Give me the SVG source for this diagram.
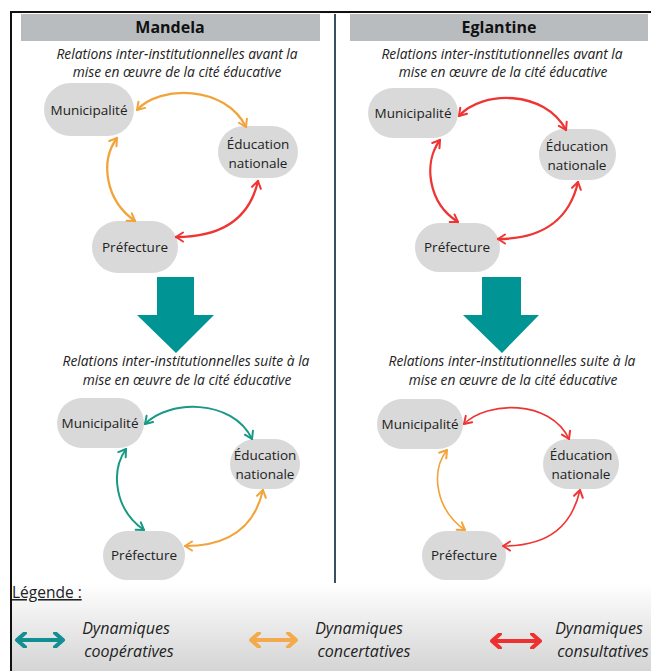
<svg xmlns="http://www.w3.org/2000/svg" width="651" height="671" viewBox="0 0 651 671">
<defs>
<style>
.hdr{fill:#b9bcbf}
.ht{font-family:"Open Sans","Liberation Sans",sans-serif;font-weight:bold;font-size:16px;fill:#111;text-anchor:middle}
.sub{font-family:"Open Sans","Liberation Sans",sans-serif;font-style:italic;font-size:13.8px;fill:#222;text-anchor:middle}
.node{fill:#d9d9d9}
.nt{font-family:"Open Sans","Liberation Sans",sans-serif;font-size:13.5px;fill:#222;text-anchor:middle}
.lt{font-family:"Open Sans","Liberation Sans",sans-serif;font-style:italic;font-size:16px;fill:#222;text-anchor:middle}
.c{fill:none;stroke-linecap:round}
.or{stroke:#f2a33a}
.rd{stroke:#ef3434}
.tl{stroke:#179985}
.big{fill:#009494}
</style>
<linearGradient id="lg" x1="0" y1="0" x2="0" y2="1">
<stop offset="0" stop-color="#ffffff"/>
<stop offset="1" stop-color="#d4d4d4"/>
</linearGradient>
<marker id="mo" viewBox="-9 -6 11 12" markerWidth="11" markerHeight="12" refX="0" refY="0" orient="auto-start-reverse" markerUnits="userSpaceOnUse"><path d="M-7,-4.5 L0,0 L-7,4.5" fill="none" stroke="#f2a33a" stroke-width="2" stroke-linecap="round" stroke-linejoin="round"/></marker>
<marker id="mr" viewBox="-9 -6 11 12" markerWidth="11" markerHeight="12" refX="0" refY="0" orient="auto-start-reverse" markerUnits="userSpaceOnUse"><path d="M-7,-4.5 L0,0 L-7,4.5" fill="none" stroke="#ef3434" stroke-width="2" stroke-linecap="round" stroke-linejoin="round"/></marker>
<marker id="mt" viewBox="-9 -6 11 12" markerWidth="11" markerHeight="12" refX="0" refY="0" orient="auto-start-reverse" markerUnits="userSpaceOnUse"><path d="M-7,-4.5 L0,0 L-7,4.5" fill="none" stroke="#179985" stroke-width="2" stroke-linecap="round" stroke-linejoin="round"/></marker>
<marker id="Lt" viewBox="-10 -8 12 16" markerWidth="12" markerHeight="16" refX="0" refY="0" orient="auto-start-reverse" markerUnits="userSpaceOnUse"><path d="M-8,-7 L0,0 L-8,7" fill="none" stroke="#128f92" stroke-width="4" stroke-linecap="round" stroke-linejoin="round"/></marker>
<marker id="Lo" viewBox="-10 -8 12 16" markerWidth="12" markerHeight="16" refX="0" refY="0" orient="auto-start-reverse" markerUnits="userSpaceOnUse"><path d="M-8,-7 L0,0 L-8,7" fill="none" stroke="#f3aa4c" stroke-width="4" stroke-linecap="round" stroke-linejoin="round"/></marker>
<marker id="Lr" viewBox="-10 -8 12 16" markerWidth="12" markerHeight="16" refX="0" refY="0" orient="auto-start-reverse" markerUnits="userSpaceOnUse"><path d="M-8,-7 L0,0 L-8,7" fill="none" stroke="#ee3030" stroke-width="4" stroke-linecap="round" stroke-linejoin="round"/></marker>
</defs>
<rect x="0" y="0" width="651" height="671" fill="#ffffff"/>
<rect x="11" y="583" width="640" height="88" fill="url(#lg)"/>
<path d="M11,671 L11,12 L651,12" fill="none" stroke="#111" stroke-width="2"/>
<line x1="335" y1="14" x2="335" y2="583" stroke="#3b4f62" stroke-width="2"/>

<g id="header-mandela"><rect class="hdr" x="21" y="14" width="299" height="27"/><text class="ht" x="170" y="33">Mandela</text></g>
<g id="header-eglantine"><rect class="hdr" x="350" y="14" width="298" height="27"/><text class="ht" x="499" y="33">Eglantine</text></g>

<g id="sub-m1"><text class="sub" x="177" y="59">Relations inter-institutionnelles avant la</text><text class="sub" x="177" y="77">mise en œuvre de la cité éducative</text></g>
<g id="sub-e1"><text class="sub" x="502" y="59">Relations inter-institutionnelles avant la</text><text class="sub" x="503" y="77">mise en œuvre de la cité éducative</text></g>
<g id="sub-m2"><text class="sub" x="186" y="366">Relations inter-institutionnelles suite à la</text><text class="sub" x="187" y="385">mise en œuvre de la cité éducative</text></g>
<g id="sub-e2"><text class="sub" x="512" y="366">Relations inter-institutionnelles suite à la</text><text class="sub" x="513" y="385">mise en œuvre de la cité éducative</text></g>

<g id="bigarrow-m"><path class="big" d="M157,277 H194 V315 H214 L176,353 L137,315 H157 Z"/></g>
<g id="bigarrow-e"><path class="big" d="M482,277 H521 V315 H539 L502,353 L463,315 H482 Z"/></g>

<g id="m1-mun"><rect class="node" x="44" y="83" width="90" height="53" rx="26.5"/><text class="nt" x="89" y="115">Municipalité</text></g>
<g id="m1-edu"><rect class="node" x="218" y="126" width="80" height="52" rx="26"/><text class="nt" x="258" y="149">Éducation</text><text class="nt" x="258" y="168">nationale</text></g>
<g id="m1-pref"><rect class="node" x="92" y="221" width="86" height="52" rx="26"/><text class="nt" x="135" y="252">Préfecture</text></g>

<g id="e1-mun"><rect class="node" x="368" y="88" width="90" height="50" rx="25"/><text class="nt" x="413" y="118">Municipalité</text></g>
<g id="e1-edu"><rect class="node" x="539" y="129" width="77" height="51" rx="25.5"/><text class="nt" x="577" y="151">Éducation</text><text class="nt" x="577" y="170">nationale</text></g>
<g id="e1-pref"><rect class="node" x="415" y="223" width="85" height="49" rx="24.5"/><text class="nt" x="457" y="252">Préfecture</text></g>

<g id="m2-mun"><rect class="node" x="57" y="398" width="87" height="50" rx="25"/><text class="nt" x="100" y="428">Municipalité</text></g>
<g id="m2-edu"><rect class="node" x="230" y="439" width="70" height="50" rx="25"/><text class="nt" x="265" y="460">Éducation</text><text class="nt" x="265" y="479">nationale</text></g>
<g id="m2-pref"><rect class="node" x="103" y="531" width="82" height="49" rx="24.5"/><text class="nt" x="144" y="560">Préfecture</text></g>

<g id="e2-mun"><rect class="node" x="377" y="399" width="86" height="50" rx="25"/><text class="nt" x="420" y="429">Municipalité</text></g>
<g id="e2-edu"><rect class="node" x="543" y="439" width="76" height="50" rx="25"/><text class="nt" x="581" y="460">Éducation</text><text class="nt" x="581" y="479">nationale</text></g>
<g id="e2-pref"><rect class="node" x="422" y="531" width="84" height="49" rx="24.5"/><text class="nt" x="464" y="560">Préfecture</text></g>

<g id="connectors">
<path class="c or" stroke-width="2.3" d="M137,110 C160,85 225,85 246,127" marker-start="url(#mo)" marker-end="url(#mo)"/>
<path class="c or" stroke-width="2.3" d="M117,138 C100,161 105,200 135,221" marker-start="url(#mo)" marker-end="url(#mo)"/>
<path class="c rd" stroke-width="2.3" d="M258,181 C250,216 225,237 176,237" marker-start="url(#mr)" marker-end="url(#mr)"/>

<path class="c rd" stroke-width="2.3" d="M459,116 C482,90 545,90 566,130" marker-start="url(#mr)" marker-end="url(#mr)"/>
<path class="c rd" stroke-width="2.3" d="M440,140 C423,163 428,203 458,222" marker-start="url(#mr)" marker-end="url(#mr)"/>
<path class="c rd" stroke-width="2.3" d="M578,182 C570,217 545,239 498,239" marker-start="url(#mr)" marker-end="url(#mr)"/>

<path class="c tl" stroke-width="2" d="M145,424 C168,400 232,398 252,439" marker-start="url(#mt)" marker-end="url(#mt)"/>
<path class="c tl" stroke-width="2" d="M126,449 C110,472 115,510 144,530" marker-start="url(#mt)" marker-end="url(#mt)"/>
<path class="c or" stroke-width="2" d="M263,490 C255,525 232,546 185,546" marker-start="url(#mo)" marker-end="url(#mo)"/>

<path class="c rd" stroke-width="1.6" d="M464,424 C487,401 550,399 569,439" marker-start="url(#mr)" marker-end="url(#mr)"/>
<path class="c or" stroke-width="1.6" d="M447,450 C430,472 436,510 465,530" marker-start="url(#mo)" marker-end="url(#mo)"/>
<path class="c rd" stroke-width="1.6" d="M580,490 C572,525 550,546 503,546" marker-start="url(#mr)" marker-end="url(#mr)"/>
</g>

<g id="legend">
<text x="12" y="598" font-family="'Open Sans','Liberation Sans',sans-serif" font-size="15.5" fill="#222" text-decoration="underline">Légende :</text>
<line x1="17" y1="640" x2="63" y2="640" stroke="#128f92" stroke-width="4" marker-start="url(#Lt)" marker-end="url(#Lt)"/>
<text class="lt" x="126" y="634">Dynamiques</text><text class="lt" x="129" y="657">coopératives</text>
<line x1="251" y1="640" x2="296" y2="640" stroke="#f3aa4c" stroke-width="4" marker-start="url(#Lo)" marker-end="url(#Lo)"/>
<text class="lt" x="359" y="634">Dynamiques</text><text class="lt" x="364" y="657">concertatives</text>
<line x1="492" y1="641" x2="540" y2="641" stroke="#ee3030" stroke-width="4" marker-start="url(#Lr)" marker-end="url(#Lr)"/>
<text class="lt" x="599" y="634">Dynamiques</text><text class="lt" x="603" y="657">consultatives</text>
</g>
</svg>
